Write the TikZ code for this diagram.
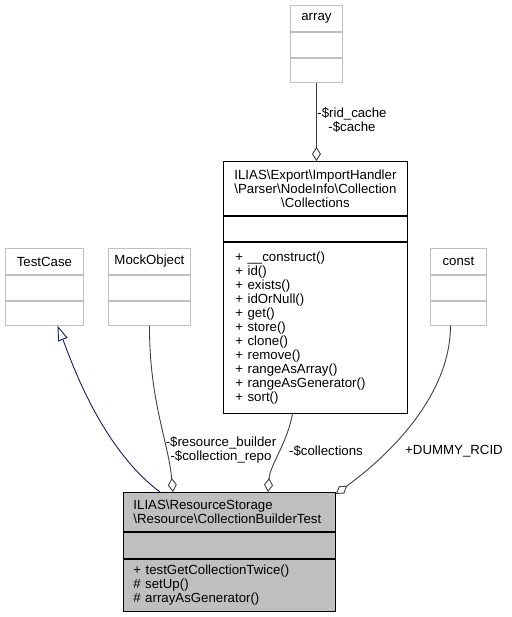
\documentclass[tikz,border=0pt]{standalone}
\usepackage{fontspec}
\setmainfont{Liberation Sans}
\usetikzlibrary{arrows.meta}
\definecolor{linkgray}{HTML}{404040}
\definecolor{navyblue}{HTML}{191970}
\colorlet{boxgray}{black!25}
\tikzset{
    part/.style={draw,anchor=north west,inner sep=0pt,line width=0.9pt},
    extcls/.style={part,draw=boxgray,minimum width=#1},
    aggr/.style={linkgray,line width=0.9pt,-{Diamond[open,length=14pt,width=9pt]}},
    inherit/.style={navyblue,line width=0.9pt,-{Triangle[open,length=15pt,width=10pt]}},
    lbl/.style={align=center,inner sep=0pt}
}

\begin{document}
\begin{tikzpicture}[x=1pt,y=-1pt,font=\fontsize{13.25pt}{14pt}\selectfont]
        \useasboundingbox (0,0) rectangle (511,617);
        % outside classes
        \foreach \n/\t/\x/\y/\w in {arr/array/290/5/52pt, testcase/TestCase/5/248/78pt,
                                    mockobj/MockObject/108/248/82pt, const/const/430/248/56pt} {
            \node [extcls=\w,minimum height=26pt] (\n head) at (\x,\y) {\t};
            \node [extcls=\w,minimum height=25pt] (\n attr) at (\n head.south west) {};
            \node [extcls=\w,minimum height=24pt] (\n meth) at (\n attr.south west) {};
        }
        % Collections
        \node [part,minimum width=184pt,minimum height=54pt,align=center] (colhead) at (223,161)
            {ILIAS\textbackslash Export\textbackslash ImportHandler\\
             \textbackslash Parser\textbackslash NodeInfo\textbackslash Collection\\
             \textbackslash Collections};
        \node [part,minimum width=184pt,minimum height=25pt] (colattr) at (colhead.south west) {};
        \node [part,minimum height=171pt,text width=160pt,inner xsep=12pt,align=left] (colmeth) at (colattr.south west)
            {+ \_\_construct()\\+ id()\\+ exists()\\+ idOrNull()\\+ get()\\+ store()\\+ clone()\\
             + remove()\\+ rangeAsArray()\\+ rangeAsGenerator()\\+ sort()};
        % CollectionBuilderTest
        \node [part,fill=boxgray,minimum height=39pt,text width=192pt,inner xsep=10pt,align=left] (cbthead) at (123,492)
            {ILIAS\textbackslash ResourceStorage\\\textbackslash Resource\textbackslash CollectionBuilderTest};
        \node [part,fill=boxgray,minimum width=212pt,minimum height=26pt] (cbtattr) at (cbthead.south west) {};
        \node [part,fill=boxgray,minimum height=52pt,text width=192pt,inner xsep=10pt,align=left] (cbtmeth) at (cbtattr.south west)
            {+ testGetCollectionTwice()\\\# setUp()\\\# arrayAsGenerator()};
        % links
        \draw [aggr] (arrmeth.south) -- (arrmeth.south |- colhead.north);
        \draw [inherit] ([xshift=37pt]cbthead.north west)
            .. controls +(-60,-45) and +(13,33) .. ([xshift=13pt]testcasemeth.south);
        \draw [aggr] (mockobjmeth.south)
            .. controls +(0,76) and +(-5,-52) .. ([xshift=50pt]cbthead.north west);
        \draw [aggr] ([xshift=-23pt]colmeth.south)
            .. controls +(-5,29) and +(2,-27) .. ([xshift=145pt]cbthead.north west);
        \draw [aggr] ([xshift=-8pt]constmeth.south)
            .. controls +(0,66) and +(60,-44) .. ([yshift=-2pt]cbthead.north east);
        \node [lbl] (lblcache) at (352,120) {-\$rid\_cache\\-\$cache};
        \node [lbl] (lblrepo) at (221,450) {-\$resource\_builder\\-\$collection\_repo};
        \node [lbl] (lblcoll) at (326,451) {-\$collections};
        \node [lbl] (lblrcid) at (454,451) {+DUMMY\_RCID};
    \end{tikzpicture}
\end{document}
